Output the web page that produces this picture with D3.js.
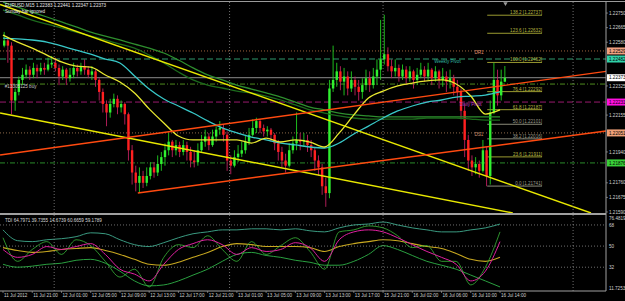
<!DOCTYPE html>
<html><head><meta charset="utf-8">
<script src="https://cdn.jsdelivr.net/npm/d3@7/dist/d3.min.js"></script>
<style>html,body{margin:0;padding:0;background:#000;overflow:hidden}svg{display:block}text{font-family:"Liberation Sans",Arial,sans-serif}</style>
</head><body><svg id="c" width="625" height="301"></svg>
<script>
// ---------- DATA ----------
const firstOpen = 1.2256;
const closes = [1.2259,1.2256,1.2224,1.2229,1.2236,1.2239,1.2242,1.2239,1.2243,1.2241,
1.2243,1.2242,1.2245,1.2246,1.2243,1.2238,1.2242,1.2237,1.2239,1.2243,
1.2241,1.2244,1.2242,1.2239,1.2241,1.2236,1.2229,1.2222,1.2217,1.2222,
1.2225,1.2220,1.2222,1.2216,1.2195,1.2182,1.2176,1.2180,1.2176,1.2180,
1.2185,1.2182,1.2187,1.2191,1.2195,1.2200,1.2195,1.2198,1.2194,1.2198,
1.2194,1.2189,1.2188,1.2195,1.2200,1.2203,1.2198,1.2203,1.2207,1.2208,
1.2204,1.2189,1.2186,1.2191,1.2193,1.2195,1.2200,1.2204,1.2208,1.2212,
1.2208,1.2206,1.2207,1.2204,1.2199,1.2194,1.2189,1.2186,1.2195,1.2199,
1.2201,1.2200,1.2201,1.2198,1.2195,1.2189,1.2185,1.2174,1.2170,1.2231,
1.2236,1.2241,1.2235,1.2238,1.2231,1.2236,1.2232,1.2229,1.2233,1.2237,
1.2233,1.2238,1.2242,1.2248,1.2251,1.2244,1.2241,1.2243,1.2238,1.2242,
1.2237,1.2241,1.2236,1.2239,1.2242,1.2238,1.2242,1.2237,1.2241,1.2236,
1.2238,1.2235,1.2237,1.2232,1.2229,1.2218,1.2201,1.2189,1.2185,1.2187,
1.2183,1.2195,1.2180,1.2217,1.2236,1.2227,1.2235,1.22373];
const highs = [1.2264,1.2260,1.2258,1.2231,1.2238,1.2243,1.2245,1.2244,1.2246,1.2245,
1.2246,1.2246,1.2249,1.2250,1.2249,1.2245,1.2244,1.2243,1.2243,1.2246,
1.2245,1.2246,1.2248,1.2244,1.2244,1.2242,1.2237,1.2231,1.2224,1.2225,
1.2228,1.2227,1.2224,1.2223,1.2217,1.2198,1.2186,1.2185,1.2183,1.2185,
1.2188,1.2188,1.2192,1.2194,1.2199,1.2205,1.2201,1.2201,1.2200,1.2201,
1.2200,1.2197,1.2195,1.2199,1.2204,1.2207,1.2205,1.2207,1.2209,1.2212,
1.2210,1.2206,1.2192,1.2195,1.2198,1.2200,1.2204,1.2208,1.2213,1.2214,
1.2213,1.2210,1.2209,1.2208,1.2205,1.2201,1.2197,1.2193,1.2199,1.2203,
1.2217,1.2205,1.2205,1.2204,1.2201,1.2197,1.2192,1.2187,1.2179,1.2236,
1.2256,1.2246,1.2244,1.2243,1.2241,1.2241,1.2238,1.2236,1.2237,1.2242,
1.2241,1.2243,1.2248,1.2271,1.2274,1.2255,1.2248,1.2248,1.2245,1.2245,
1.2244,1.2244,1.2242,1.2243,1.2246,1.2244,1.2246,1.2243,1.2244,1.2242,
1.2243,1.2241,1.2242,1.2239,1.2236,1.2231,1.2221,1.2204,1.2192,1.2191,
1.2189,1.2201,1.2197,1.2224,1.2246,1.2242,1.2242,1.22441];
const lows = [1.2255,1.2246,1.2216,1.2218,1.2227,1.2233,1.2237,1.2236,1.2237,1.2237,
1.2239,1.2239,1.2241,1.2243,1.2241,1.2233,1.2236,1.2233,1.2235,1.2237,
1.2238,1.2239,1.2239,1.2237,1.2236,1.2232,1.2224,1.2217,1.2209,1.2214,
1.2220,1.2216,1.2217,1.2210,1.2189,1.2175,1.2171,1.2170,1.2173,1.2174,
1.2178,1.2179,1.2180,1.2183,1.2186,1.2192,1.2191,1.2192,1.2191,1.2192,
1.2189,1.2185,1.2185,1.2186,1.2194,1.2197,1.2195,1.2197,1.2200,1.2204,
1.2200,1.2183,1.2181,1.2185,1.2188,1.2191,1.2193,1.2198,1.2203,1.2205,
1.2205,1.2203,1.2203,1.2200,1.2195,1.2189,1.2185,1.2182,1.2185,1.2193,
1.2195,1.2195,1.2197,1.2194,1.2191,1.2183,1.2180,1.2169,1.2162,1.2167,
1.2229,1.2232,1.2230,1.2227,1.2227,1.2229,1.2227,1.2224,1.2225,1.2230,
1.2229,1.2231,1.2233,1.2236,1.2245,1.2241,1.2237,1.2238,1.2235,1.2236,
1.2233,1.2235,1.2231,1.2233,1.2237,1.2235,1.2236,1.2233,1.2235,1.2231,
1.2232,1.2229,1.2231,1.2227,1.2224,1.2213,1.2191,1.2183,1.2180,1.2181,
1.2179,1.2182,1.2174,1.2175,1.2216,1.2221,1.2224,1.22347];

// moving averages, one value every 4 bars (bar 0,4,...,136)
const maStep = 4;
const yellowMA = [1.22622,1.22581,1.22546,1.22505,1.22465,1.22441,1.22435,1.22389,1.22348,1.22284,1.22191,1.22109,1.22033,1.22010,1.22010,1.22010,1.22010,1.21992,1.22021,1.21998,1.22010,1.21998,1.21969,1.22051,1.22156,1.22255,1.22295,1.22325,1.22342,1.22354,1.22360,1.22336,1.22266,1.22161,1.22185];
const cyanMA = [1.22604,1.22599,1.22593,1.22581,1.22558,1.22534,1.22511,1.22482,1.22459,1.22383,1.22307,1.22249,1.22208,1.22167,1.22121,1.22080,1.22051,1.22027,1.22010,1.21992,1.21981,1.21969,1.21963,1.21992,1.22045,1.22091,1.22138,1.22179,1.22208,1.22231,1.22243,1.22260,1.22266,1.22272,1.22290];
const greenMA1 = [1.22768,1.22739,1.22709,1.22686,1.22663,1.22639,1.22616,1.22593,1.22569,1.22546,1.22505,1.22459,1.22406,1.22360,1.22330,1.22313,1.22295,1.22284,1.22266,1.22243,1.22214,1.22185,1.22167,1.22150,1.22138,1.22132,1.22132,1.22132,1.22132,1.22138,1.22138,1.22138,1.22132,1.22126,1.22126];
const greenMA2 = [1.22814,1.22785,1.22756,1.22727,1.22698,1.22669,1.22639,1.22616,1.22593,1.22569,1.22546,1.22517,1.22476,1.22430,1.22389,1.22360,1.22330,1.22307,1.22284,1.22260,1.22231,1.22202,1.22185,1.22167,1.22156,1.22150,1.22144,1.22144,1.22144,1.22144,1.22144,1.22144,1.22144,1.22144,1.22144];

// TDI indicator, one value every 4 bars
const tdiUpper = [63.8,54.6,53.8,55.4,56.3,58.0,61.3,60.5,55.4,51.2,49.6,52.9,57.1,60.5,62.1,63.8,63.8,64.7,64.7,63.8,64.7,63.0,62.1,65.5,68.0,68.8,70.5,68.0,65.5,63.8,62.1,62.1,63.8,65.5,68.8];
const tdiLower = [34.5,32.0,32.9,34.5,35.4,37.9,38.7,35.4,28.6,20.3,16.1,16.9,20.3,25.3,30.3,37.0,42.9,44.6,42.0,40.4,37.9,36.2,33.7,33.7,37.0,42.9,50.4,47.1,42.0,37.0,33.7,30.3,25.3,20.3,15.2];
const tdiMiddle = [48.7,46.2,44.6,45.4,47.1,47.9,48.7,46.2,42.9,38.7,34.5,33.7,36.2,40.4,44.6,49.6,52.1,51.2,49.6,49.6,49.6,48.7,45.4,49.6,52.1,53.8,55.4,54.6,52.1,49.6,47.9,43.7,38.7,37.0,40.4];
const tdiSignal = [47.1,40.4,42.9,49.6,47.1,49.6,52.1,42.9,30.3,26.1,20.3,34.5,47.1,52.1,55.4,51.2,42.9,48.7,45.4,47.1,52.9,48.7,37.0,55.4,62.1,63.8,62.1,57.1,51.2,45.4,40.4,34.5,20.3,28.6,53.8];
const tdiRsi = [57.1,37.0,47.1,53.8,42.9,55.4,50.4,37.0,23.6,30.3,15.2,40.4,51.2,48.7,58.8,47.1,37.0,53.8,42.9,50.4,57.1,45.4,30.3,62.1,63.8,67.2,65.5,58.8,48.7,50.4,37.0,37.0,16.9,32.0,62.1];
const tdiLevels = [68, 50, 32];
const tdiAxis = ["76.4819", "68", "50", "32", "11.7253"];
const tdiAxisValues = [76.4819, 68, 50, 32, 11.7253];

// horizontal levels (price) and their names
const levelPrices = [1.22529, 1.22482, 1.22373, 1.22336, 1.22231, 1.22051, 1.21876];
const levelNames  = ["DR1", "Weekly Pivot", "", "#13305125 buy", "Daily Pivot", "DS1", ""];

// trend lines: [bar, price] pairs
const trendYellowA = [[-0.8, 1.22800], [160.9, 1.21584]];
const trendYellowB = [[-0.8, 1.22167], [139.5, 1.21584]];
const trendRedC    = [[-0.8, 1.21922], [165.0, 1.22410]];
const trendRedD    = [[36.9, 1.21701], [165.0, 1.22062]];

// fibonacci retracement
const fibLow = 1.21741, fibHigh = 1.22462;
const fibRatios = [0, 23.6, 38.2, 50.0, 61.8, 76.4, 100.0, 123.6, 138.2];
const fibBars = [132.5, 147.5];

// time axis
const timeLabels = ["11 Jul 2012","11 Jul 21:00","12 Jul 01:00","12 Jul 05:00","12 Jul 09:00","12 Jul 13:00","12 Jul 17:00","12 Jul 21:00","13 Jul 01:00","13 Jul 05:00","13 Jul 09:00","13 Jul 13:00","13 Jul 17:00","15 Jul 21:00","16 Jul 02:00","16 Jul 06:00","16 Jul 10:00","16 Jul 14:00"];
const labelEvery = 8;
const separatorBars = [14, 62, 104, 156];
const priceTicks = [1.22750, 1.22665, 1.22580, 1.22325, 1.22155, 1.21940, 1.21760, 1.21675, 1.21590];

const title = "EURUSD,M15  1.22383 1.22441 1.22347 1.22373";
const subtitle = "Sunday bar ignored";
const tdiTitle = "TDI 64.7971 39.7355 14.6739 60.6659 59.1789";

// ---------- DRAW ----------
const svg = d3.select("#c");
const AX = 606, mainTop = 2, mainBot = 213, indTop = 215, indBot = 291;
const FS = 4.6;
const x = d3.scaleLinear().domain([0, 136]).range([3, 500]);
const y = d3.scaleLinear().domain([1.21584, 1.22797]).range([213, 5]);
const yi = d3.scaleLinear().domain([11.7253, 76.4819]).range([291, 215]);

svg.append("rect").attr("width", 625).attr("height", 301).attr("fill", "#000");
const defs = svg.append("defs");
defs.append("clipPath").attr("id", "cm").append("rect").attr("x", 0).attr("y", mainTop).attr("width", AX).attr("height", mainBot - mainTop);
defs.append("clipPath").attr("id", "ci").append("rect").attr("x", 0).attr("y", indTop).attr("width", AX).attr("height", indBot - indTop);

const gm = svg.append("g").attr("clip-path", "url(#cm)");
const gi = svg.append("g").attr("clip-path", "url(#ci)");

// period separators
separatorBars.forEach(b => {
  svg.append("line").attr("x1", x(b)).attr("x2", x(b)).attr("y1", mainTop).attr("y2", indBot)
    .attr("stroke", "#8a8a8a").attr("stroke-width", 0.8).attr("stroke-dasharray", "1,2");
});

// horizontal levels
const levelStyle = [
  {c:"#a0643c", d:"1,2", box:"#f0a080", bt:"#000", tc:"#e09070"},
  {c:"#2e9a6e", d:"6,3", box:"#30d0a8", bt:"#000", tc:"#30b8a0"},
  {c:"#8c8c8c", d:null, box:"#ffffff", bt:"#000", tc:"#ccc"},
  {c:"#4e8a1e", d:"5,2,1,2", box:null, bt:"#000", tc:"#c8c8c8"},
  {c:"#9a1a6e", d:"6,3", box:"#ff10e0", bt:"#000", tc:"#c040c0"},
  {c:"#8c6a4a", d:"1,2", box:"#f0a078", bt:"#000", tc:"#d09070"},
  {c:"#2a8a2a", d:"5,2,1,2", box:"#38d038", bt:"#000", tc:"#ccc"}
];
levelPrices.forEach((p, k) => {
  const s = levelStyle[k];
  const l = gm.append("line").attr("x1", 0).attr("x2", AX).attr("y1", y(p)).attr("y2", y(p))
    .attr("stroke", s.c).attr("stroke-width", 1);
  if (s.d) l.attr("stroke-dasharray", s.d);
});

// fib
const fibG = gm.append("g");
fibRatios.forEach(r => {
  const p = fibLow + (fibHigh - fibLow) * r / 100;
  const grey = (r === 0 || r === 38.2 || r === 50);
  const col = grey ? "#8a8a7a" : "#9a9a30";
  fibG.append("line").attr("x1", x(fibBars[0])).attr("x2", x(fibBars[1])).attr("y1", y(p)).attr("y2", y(p))
    .attr("stroke", col).attr("stroke-width", 1);
  fibG.append("text").attr("x", x(fibBars[1])).attr("y", y(p) - 1).attr("text-anchor", "end")
    .attr("font-size", FS).attr("fill", grey ? "#9a9a8a" : "#b8b840")
    .text(r.toFixed(1) + " [" + p.toFixed(5) + "]");
});

// candles
const bars = closes.map((c, i) => {
  const o = i === 0 ? firstOpen : closes[i - 1];
  return {i, o, c, h: Math.max(highs[i], o, c), l: Math.min(lows[i], o, c)};
});
const cg = gm.append("g");
bars.forEach(b => {
  const cx = x(b.i) + 1.2;
  const up = b.c >= b.o;
  cg.append("line").attr("x1", cx).attr("x2", cx).attr("y1", y(b.h)).attr("y2", y(b.l))
    .attr("stroke", up ? "#20d020" : "#c02060").attr("stroke-width", 0.9);
  const top = y(Math.max(b.o, b.c)), bot = y(Math.min(b.o, b.c));
  cg.append("rect").attr("x", cx - 1.2).attr("width", 2.4).attr("y", top).attr("height", Math.max(0.8, bot - top))
    .attr("fill", up ? "#30f030" : "#ff2020");
});

// moving averages
const maLine = d3.line().x((d, k) => x(k * maStep)).y(d => y(d)).curve(d3.curveMonotoneX);
[[greenMA2, "#2e8e2e"], [greenMA1, "#1c6a1c"], [cyanMA, "#38c8c8"], [yellowMA, "#e8e830"]].forEach(([arr, col]) => {
  gm.append("path").attr("d", maLine(arr)).attr("fill", "none").attr("stroke", col).attr("stroke-width", 1.3);
});

// trend lines
[[trendYellowA, "#e8e800"], [trendYellowB, "#e8e800"], [trendRedC, "#ff4a10"], [trendRedD, "#ff4a10"]].forEach(([t, col]) => {
  gm.append("line").attr("x1", x(t[0][0])).attr("y1", y(t[0][1])).attr("x2", x(t[1][0])).attr("y2", y(t[1][1]))
    .attr("stroke", col).attr("stroke-width", 1.4);
});

// level names
const namePos = [[129, 0], [118, 1], null, [0.5, 1], [125, 1], [129, 1], null];
levelNames.forEach((n, k) => {
  if (!n) return;
  const s = levelStyle[k];
  gm.append("text").attr("x", x(namePos[k][0])).attr("y", y(levelPrices[k]) + (k === 0 ? 3 : 3.5))
    .attr("font-size", FS).attr("fill", s.tc).text(n);
});

// indicator panel
tdiLevels.forEach(v => {
  gi.append("line").attr("x1", 0).attr("x2", AX).attr("y1", yi(v)).attr("y2", yi(v))
    .attr("stroke", "#8a8a8a").attr("stroke-width", 0.8).attr("stroke-dasharray", "1,2");
});
const tdiLine = d3.line().x((d, k) => x(k * maStep)).y(d => yi(d)).curve(d3.curveMonotoneX);
[[tdiUpper, "#3a9a80", 1], [tdiLower, "#2aa040", 1], [tdiMiddle, "#c8a820", 1.1], [tdiRsi, "#38b838", 0.8], [tdiSignal, "#e020a0", 1]].forEach(([arr, col, w]) => {
  gi.append("path").attr("d", tdiLine(arr)).attr("fill", "none").attr("stroke", col).attr("stroke-width", w);
});
svg.append("text").attr("x", 5).attr("y", 222).attr("font-size", FS).attr("fill", "#d8d8d8").text(tdiTitle);

// frames
svg.append("line").attr("x1", 0).attr("x2", 625).attr("y1", 1.5).attr("y2", 1.5).attr("stroke", "#9a9a9a").attr("stroke-width", 1);
svg.append("line").attr("x1", 0).attr("x2", AX).attr("y1", 214).attr("y2", 214).attr("stroke", "#a0a0a0").attr("stroke-width", 2);
svg.append("line").attr("x1", 0).attr("x2", AX).attr("y1", indBot).attr("y2", indBot).attr("stroke", "#a0a0a0").attr("stroke-width", 1);
svg.append("line").attr("x1", AX).attr("x2", AX).attr("y1", 1).attr("y2", indBot).attr("stroke", "#a0a0a0").attr("stroke-width", 1);

// price axis ticks
priceTicks.forEach(p => {
  svg.append("line").attr("x1", AX).attr("x2", AX + 2).attr("y1", y(p)).attr("y2", y(p)).attr("stroke", "#aaa").attr("stroke-width", 0.6);
  svg.append("text").attr("x", AX + 3).attr("y", y(p) + 1.6).attr("font-size", FS).attr("fill", "#d0d0d0").text(p.toFixed(5));
});
// level boxes
levelPrices.forEach((p, k) => {
  const s = levelStyle[k];
  if (!s.box) return;
  svg.append("rect").attr("x", AX + 1).attr("y", y(p) - 3.5).attr("width", 18).attr("height", 7).attr("fill", s.box);
  svg.append("text").attr("x", AX + 3).attr("y", y(p) + 1.6).attr("font-size", FS).attr("fill", s.bt).text(p.toFixed(5));
});
// indicator axis
tdiAxisValues.forEach((v, k) => {
  svg.append("text").attr("x", AX + 3).attr("y", Math.min(Math.max(yi(v) + 1.6, 220), 290)).attr("font-size", FS).attr("fill", "#d0d0d0").text(tdiAxis[k]);
});

// time axis
timeLabels.forEach((t, k) => {
  const xx = x(k * labelEvery);
  svg.append("line").attr("x1", xx).attr("x2", xx).attr("y1", indBot).attr("y2", indBot + 2).attr("stroke", "#aaa").attr("stroke-width", 0.6);
  svg.append("text").attr("x", xx + 1).attr("y", 297).attr("font-size", FS).attr("fill", "#d0d0d0").text(t);
});

// titles
svg.append("text").attr("x", 5).attr("y", 7).attr("font-size", FS).attr("fill", "#e8e8e8").text(title);
svg.append("text").attr("x", 5).attr("y", 12.5).attr("font-size", FS).attr("fill", "#e8e8e8").text(subtitle);
// chart shift marker
svg.append("path").attr("d", d3.symbol().type(d3.symbolTriangle).size(8)()).attr("transform", `translate(${x(137.5)},3.5) rotate(180)`).attr("fill", "#9a9a9a");
</script></body></html>
